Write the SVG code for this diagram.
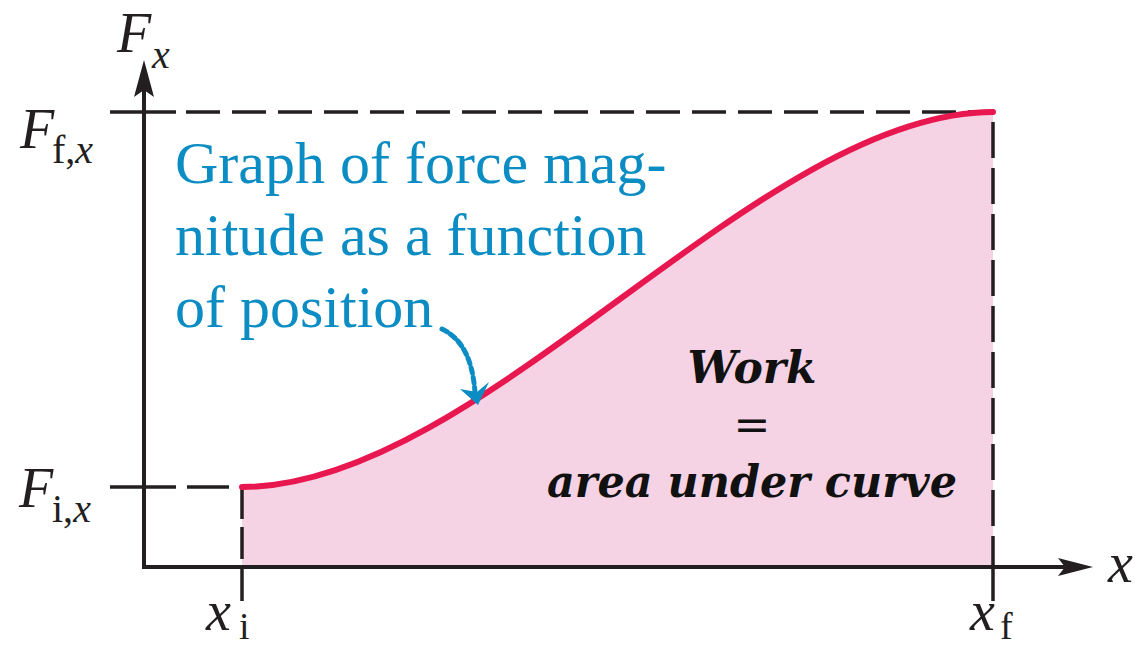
<svg xmlns="http://www.w3.org/2000/svg" width="1135" height="645" viewBox="0 0 1135 645">
<style>
.axis{stroke:#231f20;stroke-width:4;fill:none}
.tick{stroke:#231f20;stroke-width:3.5;fill:none}
.dash{stroke:#231f20;stroke-width:3.5;fill:none;stroke-dasharray:34 12}
.lab{font-family:"Liberation Serif",serif;font-style:italic;fill:#231f20}
.sub{font-family:"Liberation Serif",serif;fill:#231f20}
.blue{font-family:"Liberation Serif",serif;font-size:60px;fill:#0b8dc4}
.work{font-family:"DejaVu Serif","Liberation Serif",serif;font-style:italic;font-weight:bold;fill:#111}
</style>
<rect width="1135" height="645" fill="#fff"/>
<g id="area">
<path d="M242,487 C482,487 758,112 993,112 L993,567 L242,567 Z" fill="#f5d3e4"/>
</g>
<g id="connectors">
<line class="tick" x1="110" y1="112" x2="176" y2="112"/>
<line class="dash" x1="186" y1="112" x2="993" y2="112"/>
<line class="tick" x1="110" y1="487" x2="176" y2="487"/>
<line class="dash" x1="187" y1="487" x2="242" y2="487" style="stroke-dasharray:42 12"/>
<line class="dash" x1="242" y1="487" x2="242" y2="567" style="stroke-dasharray:32 8"/>
<line class="dash" x1="993" y1="122" x2="993" y2="567" style="stroke-dasharray:36 10"/>
<line class="tick" x1="242" y1="567" x2="242" y2="601"/>
<line class="tick" x1="993" y1="567" x2="993" y2="601"/>
<polyline class="axis" points="144,90 144,567 1070,567"/>
<path d="M144,60 L154,97 L144,90 L134,97 Z" fill="#231f20"/>
<path d="M1093,567 L1058,576 L1065,567 L1058,558 Z" fill="#231f20"/>
</g>
<g id="curve">
<path d="M242,487 C482,487 758,112 993,112" fill="none" stroke="#e8174f" stroke-width="6" stroke-linecap="round"/>
</g>
<g id="pointer">
<path d="M442,329 C460,338 472,355 475,392" fill="none" stroke="#0b8dc4" stroke-width="5" stroke-linecap="round" stroke-dasharray="6 4"/>
<path d="M460,389 L478,405 L489,382 L477,392 Z" fill="#0b8dc4"/>
</g>
<g id="axis-labels">
<text class="lab" x="117" y="52" font-size="56">F</text>
<text class="lab" x="152" y="68" font-size="40">x</text>
<text class="lab" x="20" y="148" font-size="56">F</text>
<text class="sub" x="52" y="163" font-size="40">f,<tspan font-style="italic">x</tspan></text>
<text class="lab" x="19" y="507" font-size="56">F</text>
<text class="sub" x="52" y="522" font-size="40">i,<tspan font-style="italic">x</tspan></text>
<text class="lab" x="206" y="630" font-size="56">x</text>
<text class="sub" x="239" y="639" font-size="38">i</text>
<text class="lab" x="970" y="630" font-size="56">x</text>
<text class="sub" x="1000" y="639" font-size="38">f</text>
<text class="lab" x="1108" y="582" font-size="56">x</text>
</g>
<g id="caption">
<text class="blue" x="175" y="183">Graph of force mag-</text>
<text class="blue" x="175" y="255">nitude as a function</text>
<text class="blue" x="175" y="327">of position</text>
</g>
<g id="work-label">
<text class="work" x="752" y="383" font-size="44" text-anchor="middle" textLength="129" lengthAdjust="spacingAndGlyphs">Work</text>
<text class="work" x="752" y="440" font-size="44" text-anchor="middle" style="font-style:normal;font-weight:normal">=</text>
<text class="work" x="752" y="497" font-size="44" text-anchor="middle" textLength="410" lengthAdjust="spacingAndGlyphs">area under curve</text>
</g>
</svg>
